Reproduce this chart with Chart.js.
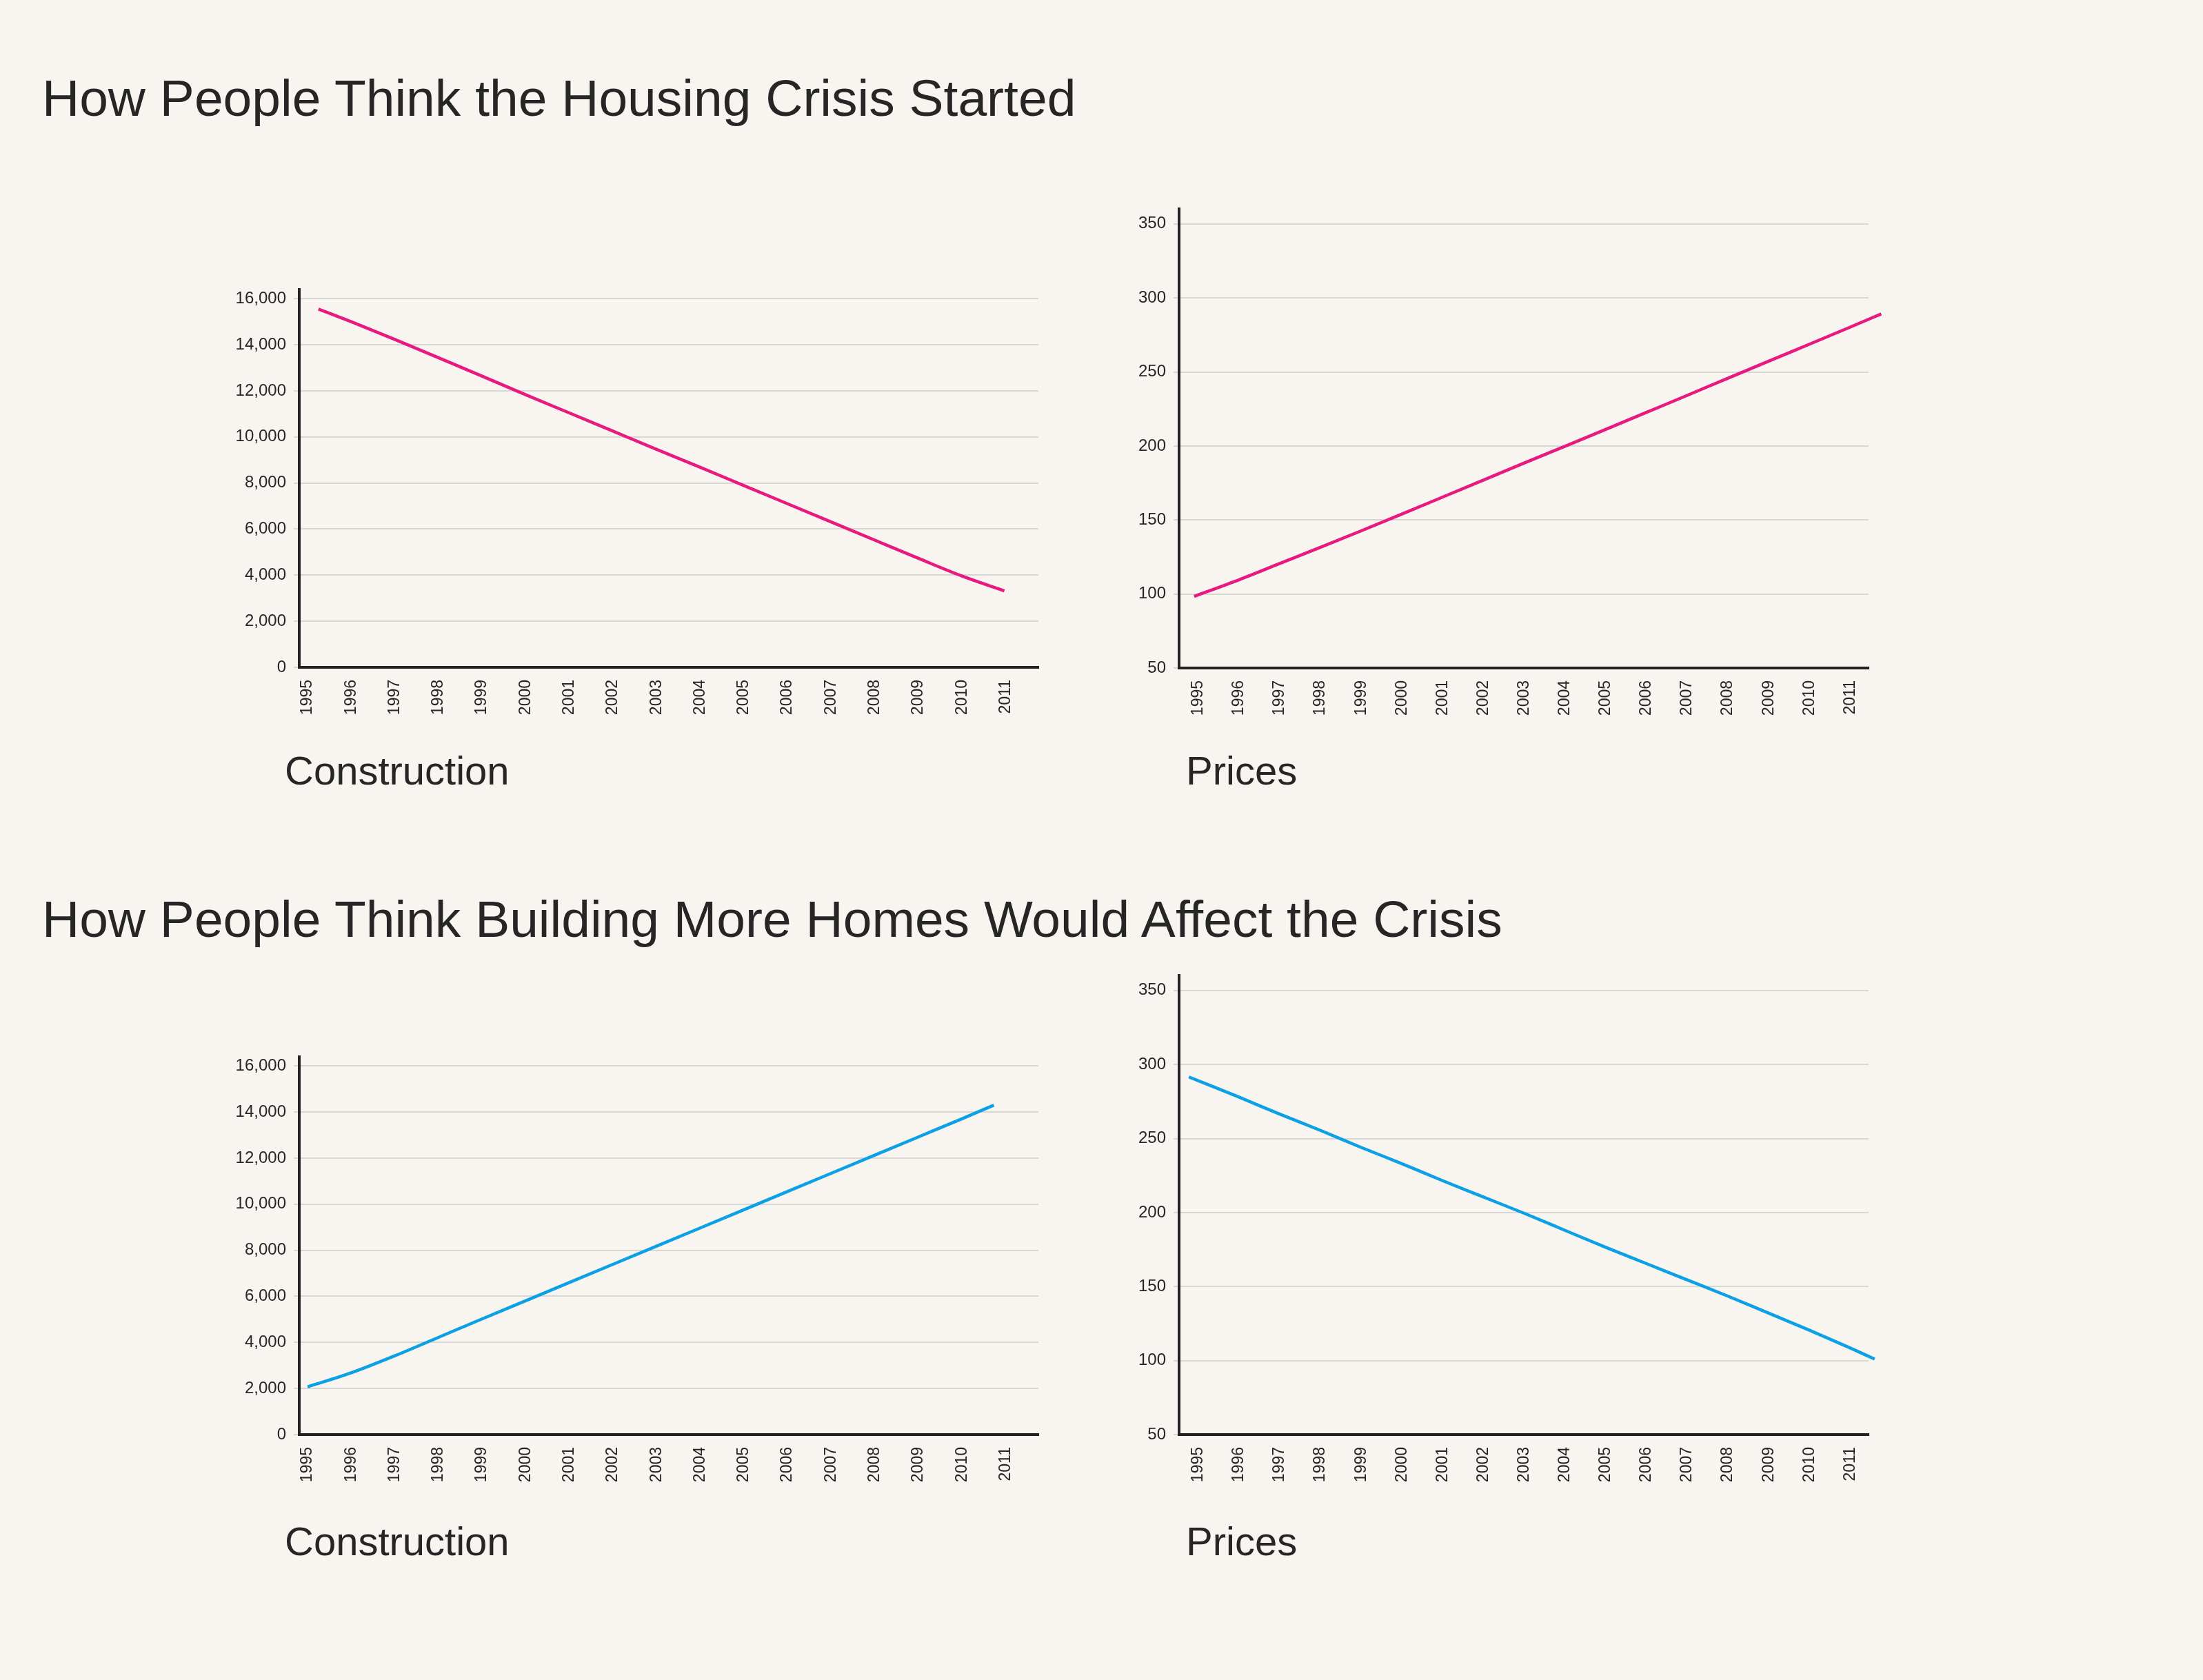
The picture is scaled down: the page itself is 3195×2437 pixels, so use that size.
<!DOCTYPE html>
<html>
<head>
<meta charset="utf-8">
<script src="https://cdn.jsdelivr.net/npm/chart.js@4.4.1/dist/chart.umd.min.js"></script>
<style>
  body { margin: 0; background: #f8f5f0; width: 3195px; height: 2437px; position: relative; overflow: hidden;
         font-family: "Liberation Sans", Arial, sans-serif; color: #262626; }
  .title { position: absolute; font-size: 75px; line-height: 75px; white-space: nowrap; }
  .sub { position: absolute; font-size: 58px; line-height: 58px; white-space: nowrap; }
  canvas { position: absolute; }
</style>
</head>
<body>
<div class="title" style="left:61px;top:105px">How People Think the Housing Crisis Started</div>
<div class="title" style="left:61px;top:1296px">How People Think Building More Homes Would Affect the Crisis</div>
<div class="sub" style="left:413px;top:1089px">Construction</div>
<div class="sub" style="left:1720px;top:1089px">Prices</div>
<div class="sub" style="left:413px;top:2207px">Construction</div>
<div class="sub" style="left:1720px;top:2207px">Prices</div>

<canvas id="startedConstruction" width="1242" height="663" style="left:304px;top:395px"></canvas>
<canvas id="startedPrices" width="1170" height="781" style="left:1580px;top:278px"></canvas>
<canvas id="buildingConstruction" width="1242" height="663" style="left:304px;top:1508px"></canvas>
<canvas id="buildingPrices" width="1170" height="781" style="left:1580px;top:1390px"></canvas>

<script>
const YEARS = [1995, 1996, 1997, 1998, 1999, 2000, 2001, 2002, 2003, 2004, 2005, 2006, 2007, 2008, 2009, 2010, 2011];
const CONSTRUCTION_TICKS = [0, 2000, 4000, 6000, 8000, 10000, 12000, 14000, 16000];
const PRICE_TICKS = [50, 100, 150, 200, 250, 300, 350];

// crisis started: construction falls, prices rise
const startedConstructionX = [1995.25, 1996, 1997, 1998, 1999, 2000, 2001, 2002, 2003, 2004, 2005, 2006, 2007, 2008, 2009, 2010, 2010.97];
const startedConstructionY = [15550, 15000, 14230, 13440, 12640, 11830, 11040, 10250, 9460, 8680, 7890, 7100, 6310, 5520, 4730, 3960, 3320];
const startedPricesX = [1994.9, 1996, 1997, 1998, 1999, 2000, 2001, 2002, 2003, 2004, 2005, 2006, 2007, 2008, 2009, 2010, 2011, 2011.76];
const startedPricesY = [98.4, 109.6, 120.6, 131.6, 142.7, 154, 165.5, 177, 188.5, 199.8, 211.2, 222.7, 234.2, 245.8, 257.3, 268.8, 280.3, 289.2];

// building more homes: construction rises, prices fall
const buildingConstructionX = [1995, 1996, 1997, 1998, 1999, 2000, 2001, 2002, 2003, 2004, 2005, 2006, 2007, 2008, 2009, 2010, 2010.73];
const buildingConstructionY = [2070, 2680, 3420, 4220, 5020, 5810, 6600, 7390, 8180, 8970, 9760, 10550, 11340, 12130, 12920, 13710, 14300];
const buildingPricesX = [1994.77, 1996, 1997, 1998, 1999, 2000, 2001, 2002, 2003, 2004, 2005, 2006, 2007, 2008, 2009, 2010, 2011, 2011.6];
const buildingPricesY = [291.6, 278, 266.5, 255.5, 244, 233, 221.5, 210.5, 199.5, 188, 176.5, 165.5, 154.5, 143.5, 132, 120.5, 108.5, 101];

const PINK = '#e8197f';
const BLUE = '#0ba1e4';

Chart.defaults.font.family = '"Liberation Sans", Arial, sans-serif';
Chart.defaults.color = '#262626';

function makeChart(id, xs, ys, color, yTicks, yMin, yMax, xMin, xMax) {
    const ctx = document.getElementById(id).getContext('2d');
    return new Chart(ctx, {
        type: 'line',
        data: {
            datasets: [{
                data: xs.map((x, i) => ({ x: x, y: ys[i] })),
                borderColor: color,
                borderWidth: 4.5,
                pointRadius: 0,
                fill: false,
                cubicInterpolationMode: 'monotone',
                clip: false
            }]
        },
        options: {
            responsive: false,
            animation: false,
            layout: { padding: { top: 20, right: 40, bottom: 0, left: 0 } },
            plugins: { legend: { display: false }, tooltip: { enabled: false } },
            scales: {
                x: {
                    type: 'linear',
                    min: xMin,
                    max: xMax,
                    afterBuildTicks: axis => { axis.ticks = YEARS.map(v => ({ value: v })); },
                    afterFit: axis => { axis.height = 90; },
                    grid: { display: false },
                    border: { display: true, color: '#222', width: 4 },
                    ticks: { autoSkip: false, minRotation: 90, maxRotation: 90, padding: 10,
                             font: { size: 23 }, callback: v => String(v) }
                },
                y: {
                    min: yMin,
                    max: yMax,
                    afterBuildTicks: axis => { axis.ticks = yTicks.map(v => ({ value: v })); },
                    afterFit: axis => { axis.width = 130; },
                    grid: { color: '#d9d7d3', lineWidth: 2, tickLength: 8 },
                    border: { color: '#222', width: 4 },
                    ticks: { padding: 11, font: { size: 24 }, callback: v => v.toLocaleString('en-US') }
                }
            }
        }
    });
}

makeChart('startedConstruction', startedConstructionX, startedConstructionY, PINK, CONSTRUCTION_TICKS, 0, 16385, 1994.81, 2011.75);
makeChart('startedPrices', startedPricesX, startedPricesY, PINK, PRICE_TICKS, 50, 360, 1994.53, 2011.45);
makeChart('buildingConstruction', buildingConstructionX, buildingConstructionY, BLUE, CONSTRUCTION_TICKS, 0, 16385, 1994.81, 2011.75);
makeChart('buildingPrices', buildingPricesX, buildingPricesY, BLUE, PRICE_TICKS, 50, 360, 1994.53, 2011.45);
</script>
</body>
</html>
